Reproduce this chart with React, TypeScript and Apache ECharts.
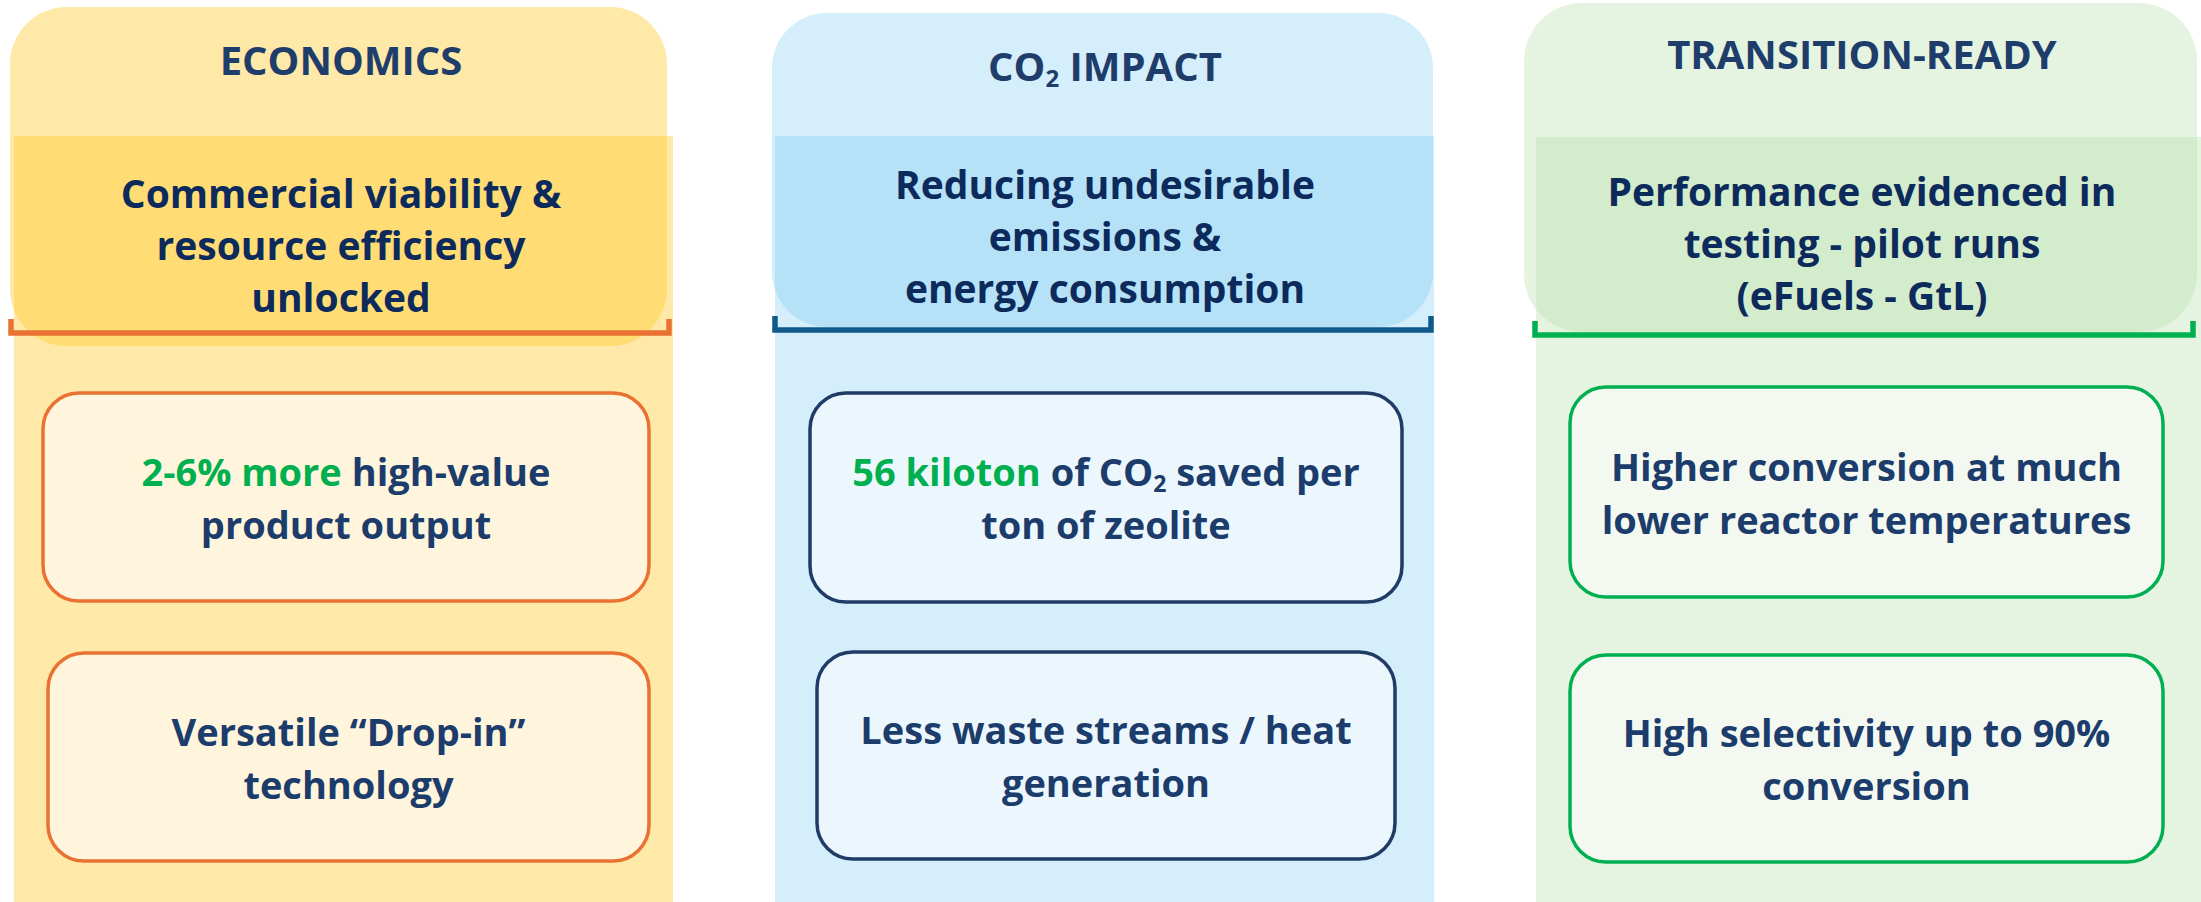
import React, { useEffect, useRef } from "react";
import * as echarts from "echarts";

// ---------- content ----------
const columnTitles = ["ECONOMICS", "CO₂ IMPACT", "TRANSITION-READY"];
const columnSubtitles = [
  ["Commercial viability &", "resource efficiency", "unlocked"],
  ["Reducing undesirable", "emissions &", "energy consumption"],
  ["Performance evidenced in", "testing - pilot runs", "(eFuels - GtL)"],
];
const boxTexts = [
  [["2-6% more high-value", "product output"], ["Versatile “Drop-in”", "technology"]],
  [["56 kiloton of CO₂ saved per", "ton of zeolite"], ["Less waste streams / heat", "generation"]],
  [["Higher conversion at much", "lower reactor temperatures"], ["High selectivity up to 90%", "conversion"]],
];
const boxHighlights = [
  ["2-6% more", ""],
  ["56 kiloton", ""],
  ["", ""],
];

// ---------- layout & style ----------
const FONT = "'Open Sans', 'Liberation Sans', sans-serif";
const layout = [
  {
    top: { x: 10, y: 7, w: 657, h: 339, r: 57 },
    bg: { x: 14, y: 136, w: 659 },
    bracket: { x1: 11, x2: 669, y: 333, t: 319 },
    cx: 341, titleY: 59, subY: 244,
    boxes: [
      { x: 43, y: 393, w: 606, h: 208 },
      { x: 48, y: 653, w: 601, h: 208 },
    ],
  },
  {
    top: { x: 772, y: 13, w: 661, h: 314, r: 55 },
    bg: { x: 775, y: 136, w: 659 },
    bracket: { x1: 775, x2: 1431, y: 330, t: 316 },
    cx: 1105, titleY: 65, subY: 235,
    boxes: [
      { x: 810, y: 393, w: 592, h: 209 },
      { x: 817, y: 652, w: 578, h: 207 },
    ],
  },
  {
    top: { x: 1524, y: 3, w: 673, h: 329, r: 58 },
    bg: { x: 1536, y: 137, w: 665 },
    bracket: { x1: 1535, x2: 2193, y: 335, t: 321 },
    cx: 1862, titleY: 53, subY: 242,
    boxes: [
      { x: 1570, y: 387, w: 593, h: 210 },
      { x: 1570, y: 655, w: 593, h: 207 },
    ],
  },
];
const palette = [
  { fill: "rgba(255,200,38,0.4)", accent: "#E97132", boxFill: "#FFF5DD", boxStroke: "#E97132" },
  { fill: "rgba(112,198,242,0.3)", accent: "#0F5A8A", boxFill: "#EBF7FD", boxStroke: "#1F3B66" },
  { fill: "rgba(176,222,161,0.33)", accent: "#00B050", boxFill: "#F3F9F1", boxStroke: "#00B050" },
];
const TITLE_COLOR = "#1F3D6B";
const SUB_COLOR = "#0C2A5B";
const BOX_TEXT_COLOR = "#1C3C6B";
const GREEN = "#00B050";

function richStyles(size: number, color: string) {
  return {
    g: { fontSize: size, fontWeight: "bold", fontFamily: FONT, fill: GREEN, color: GREEN },
    sub: {
      fontSize: Math.round(size * 0.6),
      fontWeight: "bold",
      fontFamily: FONT,
      fill: color,
      color: color,
      lineHeight: Math.round(size * 0.6),
      padding: [Math.round(size * 0.6), 0, 0, 0],
    },
  };
}

function toRich(line: string) {
  return line.replace(/₂/g, "{sub|2}");
}

function textEl(text: string, x: number, y: number, size: number, lh: number, color: string) {
  return {
    type: "text",
    z: 20,
    style: {
      text,
      x,
      y,
      align: "center",
      verticalAlign: "middle",
      textAlign: "center",
      textVerticalAlign: "middle",
      fontSize: size,
      fontWeight: "bold",
      fontFamily: FONT,
      fill: color,
      lineHeight: lh,
      rich: richStyles(size, color),
    },
  };
}

function buildGraphics() {
  const els: any[] = [];
  layout.forEach((L, i) => {
    const P = palette[i];
    els.push({
      type: "rect", z: 1,
      shape: { x: L.bg.x, y: L.bg.y, width: L.bg.w, height: 902 - L.bg.y },
      style: { fill: P.fill },
    });
    els.push({
      type: "rect", z: 2,
      shape: { x: L.top.x, y: L.top.y, width: L.top.w, height: L.top.h, r: L.top.r },
      style: { fill: P.fill },
    });
    els.push({
      type: "polyline", z: 5,
      shape: {
        points: [
          [L.bracket.x1, L.bracket.t],
          [L.bracket.x1, L.bracket.y],
          [L.bracket.x2, L.bracket.y],
          [L.bracket.x2, L.bracket.t],
        ],
      },
      style: { stroke: P.accent, lineWidth: 5.5, fill: null, lineJoin: "miter" },
    });
    els.push(textEl(toRich(columnTitles[i]), L.cx, L.titleY, 40, 50, TITLE_COLOR));
    els.push(textEl(columnSubtitles[i].map(toRich).join("\n"), L.cx, L.subY, 39, 52, SUB_COLOR));
    L.boxes.forEach((B, j) => {
      els.push({
        type: "rect", z: 6,
        shape: { x: B.x, y: B.y, width: B.w, height: B.h, r: 36 },
        style: { fill: P.boxFill, stroke: P.boxStroke, lineWidth: 3.5 },
      });
      const lines = boxTexts[i][j].slice();
      const hl = boxHighlights[i][j];
      let first = lines[0];
      if (hl && first.startsWith(hl)) {
        first = "{g|" + hl + "}" + toRich(first.slice(hl.length));
      } else {
        first = toRich(first);
      }
      const all = [first, ...lines.slice(1).map(toRich)].join("\n");
      els.push(textEl(all, B.x + B.w / 2, B.y + B.h / 2, 38, 53, BOX_TEXT_COLOR));
    });
  });
  return els;
}

export default function App() {
  const ref = useRef<HTMLDivElement>(null);
  useEffect(() => {
    if (!ref.current) return;
    const chart = echarts.init(ref.current, null, { renderer: "svg" });
    chart.setOption({
      animation: false,
      backgroundColor: "#FFFFFF",
      graphic: { elements: buildGraphics() },
    });
    return () => chart.dispose();
  }, []);
  return (
    <div
      ref={ref}
      style={{ position: "fixed", left: 0, top: 0, width: 2201, height: 902, background: "#fff" }}
    />
  );
}
